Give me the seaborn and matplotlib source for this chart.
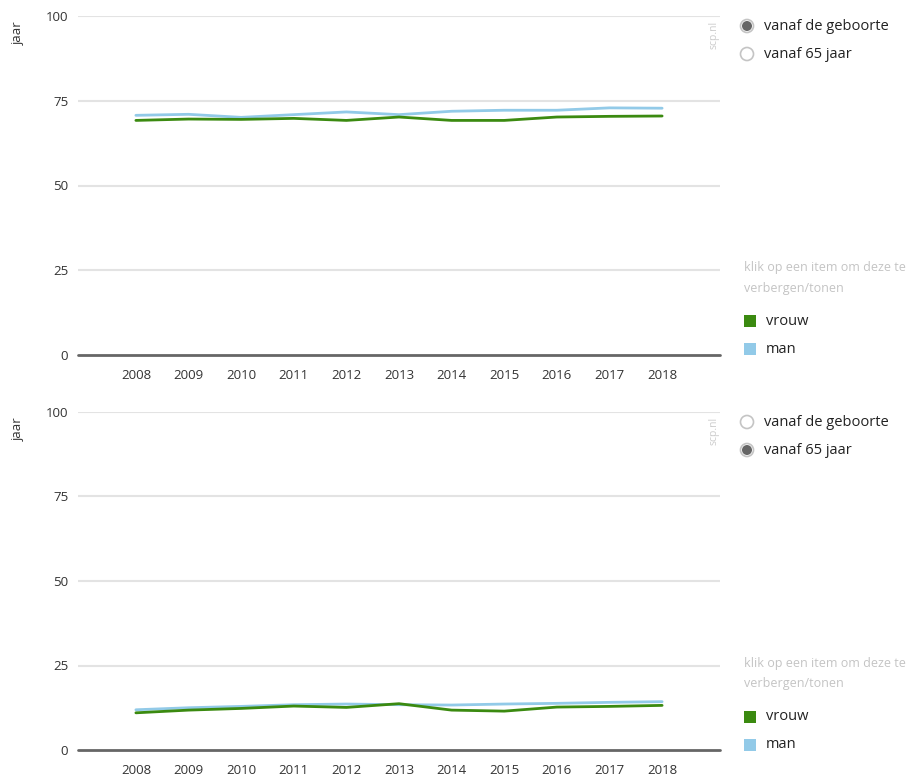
import matplotlib
matplotlib.use("Agg")
import matplotlib.pyplot as plt
import seaborn as sns
import pandas as pd
from matplotlib.patches import Circle, Rectangle

years = [2008, 2009, 2010, 2011, 2012, 2013, 2014, 2015, 2016, 2017, 2018]
vrouw_geboorte = [69.2, 69.6, 69.5, 69.8, 69.2, 70.2, 69.2, 69.2, 70.2, 70.4, 70.5]
man_geboorte = [70.7, 71.0, 70.1, 70.9, 71.7, 70.9, 71.9, 72.2, 72.2, 72.9, 72.8]
vrouw_65 = [11.0, 11.8, 12.3, 13.0, 12.6, 13.7, 11.8, 11.5, 12.7, 12.9, 13.2]
man_65 = [11.9, 12.5, 12.9, 13.4, 13.6, 13.4, 13.3, 13.6, 13.8, 14.1, 14.3]
series = ["vrouw", "man"]
y_ticks = [0, 25, 50, 75, 100]
radio_labels = ["vanaf de geboorte", "vanaf 65 jaar"]

GREEN = "#3b8a10"
BLUE = "#92cae8"
palette = {"vrouw": GREEN, "man": BLUE}

sns.set_theme(style="white")
plt.rcParams["font.family"] = ["Open Sans", "DejaVu Sans"]

W, H = 918, 778
fig = plt.figure(figsize=(W / 100, H / 100), dpi=100)


def make_df(v, m):
    return pd.DataFrame({
        "jaar": years * 2,
        "waarde": v + m,
        "geslacht": ["vrouw"] * len(years) + ["man"] * len(years),
    })


panels = [
    (make_df(vrouw_geboorte, man_geboorte), 16, 355, 0),
    (make_df(vrouw_65, man_65), 412, 750, 1),
]

for df, ytop, ybot, sel in panels:
    ax = fig.add_axes([78 / W, 1 - ybot / H, (720 - 78) / W, (ybot - ytop) / H])
    sns.lineplot(data=df, x="jaar", y="waarde", hue="geslacht", hue_order=["man", "vrouw"],
                 palette=palette, linewidth=2.0, legend=False, ax=ax)
    ax.set_xlim(2006.9, 2019.1)
    ax.set_ylim(0, 100)
    for s in ax.spines.values():
        s.set_visible(False)
    for t in y_ticks[1:]:
        ax.axhline(t, color="#e3e3e3", linewidth=1.5, zorder=0)
    ax.axhline(0, color="#666666", linewidth=2.0, zorder=3, clip_on=False)
    ax.set_yticks(y_ticks)
    ax.set_yticklabels([str(t) for t in y_ticks])
    ax.set_xticks(years)
    ax.set_xticklabels([str(y) for y in years])
    ax.tick_params(axis="y", length=0, pad=7, labelsize=9.5, labelcolor="#333333")
    ax.tick_params(axis="x", length=0, pad=10, labelsize=9.5, labelcolor="#333333")
    ax.set_xlabel("")
    ax.set_ylabel("")
    fig.text(18 / W, 1 - (ytop + 17) / H, "jaar", rotation=90, ha="center", va="center",
             fontsize=9.5, color="#333333")
    fig.text(714 / W, 1 - (ytop + 19) / H, "scp.nl", rotation=90, ha="center", va="center",
             fontsize=7.5, color="#cccccc")

# overlay for legend widgets in pixel coordinates
ov = fig.add_axes([0, 0, 1, 1])
ov.set_xlim(0, W)
ov.set_ylim(H, 0)
ov.axis("off")

for base, sel in [(0, 0), (396, 1)]:
    for i, lab in enumerate(radio_labels):
        cy = 26 + base + i * 28
        ov.add_patch(Circle((747, cy), 6.5, facecolor="white", edgecolor="#c4c4c4", linewidth=1.2))
        if i == sel:
            ov.add_patch(Circle((747, cy), 5.0, facecolor="#666666", edgecolor="none"))
        ov.text(764, cy, lab, ha="left", va="center", fontsize=10.5, color="#222222")
    ov.text(744, 267 + base, "klik op een item om deze te", ha="left", va="center",
            fontsize=9.0, color="#c4c4c4")
    ov.text(744, 288 + base, "verbergen/tonen", ha="left", va="center",
            fontsize=9.0, color="#c4c4c4")
    for j, name in enumerate(series):
        cy = 321 + base + j * 28
        ov.add_patch(Rectangle((744, cy - 6), 12, 12, facecolor=palette[name], edgecolor="none"))
        ov.text(766, cy, name, ha="left", va="center", fontsize=10.5, color="#222222")

fig.savefig("out.png", dpi=100)
